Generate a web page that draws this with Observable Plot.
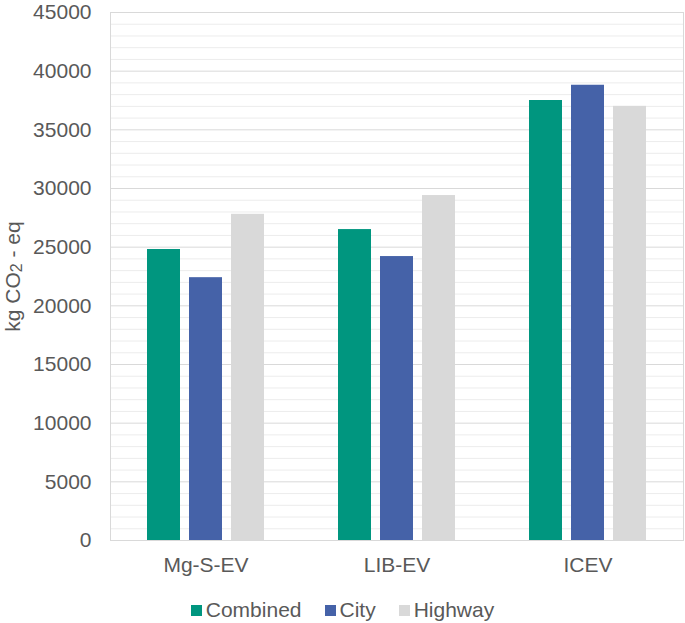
<!DOCTYPE html>
<html>
<head>
<meta charset="utf-8">
<script src="https://cdn.jsdelivr.net/npm/d3@7"></script>
<script src="https://cdn.jsdelivr.net/npm/@observablehq/plot@0.6"></script>
<style>
  body { margin: 0; background: #fff; font-family: "Liberation Sans", Arial, sans-serif; }
  #legend { display: flex; justify-content: center; align-items: center; gap: 23px; margin-top: 13px; font-size: 21px; color: #595959; height: 24px; }
  #legend .item { display: flex; align-items: center; gap: 4px; }
  #legend .sw { width: 11px; height: 11px; display: inline-block; }
</style>
</head>
<body>
<div id="chart"></div>
<script>
const groups = ["Mg-S-EV", "LIB-EV", "ICEV"];
const series = ["Combined", "City", "Highway"];
const colors = ["#00967f", "#4562a8", "#d9d9d9"];
const combined = [24800, 26500, 37500];
const city = [22400, 24200, 38800];
const highway = [27800, 29400, 37000];
const majorTicks = [0, 5000, 10000, 15000, 20000, 25000, 30000, 35000, 40000, 45000];
const minorTicks = d3.range(0, 45001, 1000).filter(v => v % 5000 !== 0);
const yLabelParts = ["kg CO", "2", " - eq"];

const valuesBySeries = {Combined: combined, City: city, Highway: highway};
const data = groups.flatMap((g, i) => series.map(s => ({group: g, series: s, value: valuesBySeries[s][i]})));

const plot = Plot.plot({
  width: 685,
  height: 585,
  marginLeft: 110,
  marginRight: 2,
  marginTop: 12,
  marginBottom: 45,
  style: {fontFamily: "Liberation Sans, Arial, sans-serif", fontSize: "21px", color: "#595959", background: "#fff", overflow: "visible"},
  fx: {domain: groups, padding: 0, label: null, tickSize: 0, tickPadding: 17, axis: "bottom"},
  x: {domain: series, axis: null, paddingInner: 0.22, paddingOuter: 0.865},
  y: {domain: [0, 45000], ticks: majorTicks, tickSize: 0, tickPadding: 19, label: yLabelParts.join(""), labelArrow: "none", labelAnchor: "center", labelOffset: 105, tickFormat: d => String(d)},
  color: {domain: series, range: colors},
  marks: [
    Plot.ruleY(minorTicks, {stroke: "#ececec", strokeWidth: 1}),
    Plot.ruleY(majorTicks, {stroke: "#d9d9d9", strokeWidth: 1}),
    Plot.frame({facet: "super", stroke: "#d9d9d9"}),
    Plot.barY(data, {fx: "group", x: "series", y: "value", fill: "series"})
  ]
});
document.getElementById("chart").appendChild(plot);

// rich y label with smaller "2"
const lab = plot.querySelector('g[aria-label="y-axis label"] text');
if (lab) {
  lab.textContent = "";
  const ns = "http://www.w3.org/2000/svg";
  yLabelParts.forEach((p, i) => {
    const ts = document.createElementNS(ns, "tspan");
    ts.textContent = p;
    if (i === 1) { ts.setAttribute("font-size", "16px"); ts.setAttribute("dy", "2"); }
    if (i === 2) { ts.setAttribute("dy", "-2"); }
    lab.appendChild(ts);
  });
}

const legend = document.createElement("div");
legend.id = "legend";
series.forEach((s, i) => {
  const item = document.createElement("span");
  item.className = "item";
  const sw = document.createElement("span");
  sw.className = "sw";
  sw.style.background = colors[i];
  const t = document.createElement("span");
  t.textContent = s;
  item.appendChild(sw);
  item.appendChild(t);
  legend.appendChild(item);
});
document.body.appendChild(legend);
</script>
</body>
</html>
